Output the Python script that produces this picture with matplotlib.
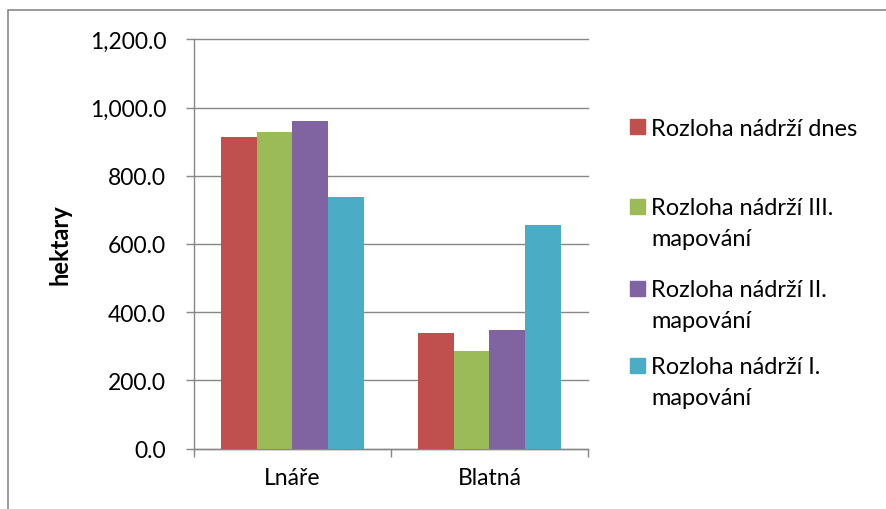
import matplotlib.pyplot as plt
import numpy as np
from matplotlib.patches import Rectangle
from matplotlib.ticker import FuncFormatter

plt.rcParams['font.family'] = ['Lato', 'DejaVu Sans']

# data
lokality = ['Lnáře', 'Blatná']
serie = ['Rozloha nádrží dnes',
         'Rozloha nádrží III.\nmapování',
         'Rozloha nádrží II.\nmapování',
         'Rozloha nádrží I.\nmapování']
dnes = [915, 338]
mapovani_3 = [928, 285]
mapovani_2 = [960, 349]
mapovani_1 = [738, 655]
barvy = ['#C0504D', '#9BBB59', '#8064A2', '#4BACC6']

hodnoty = [dnes, mapovani_3, mapovani_2, mapovani_1]
seda = '#878787'
vel = 16.5

fig = plt.figure(figsize=(8.87, 5.10), dpi=100)
ax = fig.add_axes([194 / 887, 1 - 449.5 / 510, 394 / 887, 409 / 510])

x = np.arange(len(lokality))
sirka = 0.182
for i, (vals, c) in enumerate(zip(hodnoty, barvy)):
    ax.bar(x + (i - 1.5) * sirka, vals, sirka, color=c, zorder=3)

ax.set_xlim(-0.5, 1.5)
ax.set_ylim(0, 1200)
ax.set_yticks(np.arange(0, 1201, 200))
ax.yaxis.set_major_formatter(FuncFormatter(lambda v, p: f'{v:,.1f}'))
ax.grid(axis='y', color=seda, linewidth=1.0, zorder=0)
for g in ax.get_ygridlines():
    g.set_clip_on(False)

# category boundaries carry the tick marks, centres carry the labels
ax.set_xticks([-0.5, 0.5, 1.5])
ax.set_xticklabels([])
ax.set_xticks(x, minor=True)
ax.set_xticklabels(lokality, minor=True)
ax.tick_params(axis='x', which='major', direction='out', length=6, width=1.0, color=seda)
ax.tick_params(axis='x', which='minor', length=0, pad=13, labelsize=vel)
ax.tick_params(axis='y', direction='out', length=6, width=1.0, color=seda, pad=14, labelsize=vel)

for s in ['top', 'right']:
    ax.spines[s].set_visible(False)
for s in ['left', 'bottom']:
    ax.spines[s].set_color(seda)
    ax.spines[s].set_linewidth(1.0)

ax.set_ylabel('hektary', fontsize=17, fontweight='bold', labelpad=13)

# legend: square next to the first line of each entry
radky = [127.5, 207, 289, 366]
for lbl, c, yy in zip(serie, barvy, radky):
    fig.patches.append(Rectangle((630 / 887, 1 - (yy + 7.5) / 510), 15 / 887, 15 / 510,
                                 transform=fig.transFigure, color=c))
    fig.text(651 / 887, 1 - (yy - 9) / 510, lbl, fontsize=17, va='top', ha='left',
             linespacing=1.6)

# chart area border (runs past the right and bottom edges)
fig.patches.append(Rectangle((8.5 / 887, -0.05), 1.0, 1 - 10.5 / 510 + 0.05,
                             transform=fig.transFigure, fill=False,
                             edgecolor='#898989', linewidth=1.2))

fig.savefig('out.png', dpi=100)
